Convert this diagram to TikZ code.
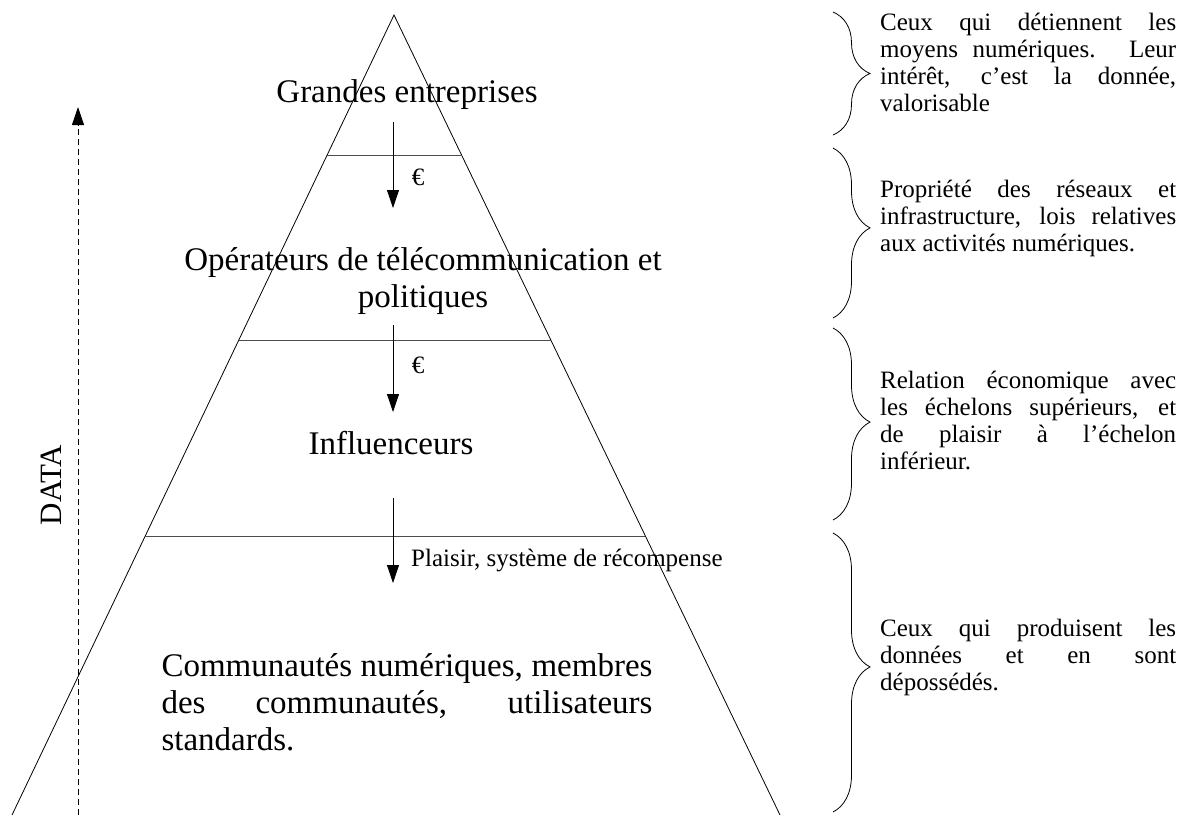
\documentclass[tikz,border=0pt]{standalone}
\usepackage{fontspec}
\setmainfont{Liberation Serif}
\usetikzlibrary{arrows.meta,calc,decorations.pathreplacing}

\begin{document}
\begin{tikzpicture}[x=1pt,y=-1pt,
  side/.style={line width=.8pt},
  level/.style={line width=1pt,black!70},
  flow/.style={line width=.8pt,-{Triangle[width=12pt,length=18pt]}},
  layer/.style={font=\fontsize{33}{37}\selectfont,align=center,inner sep=0pt},
  note/.style={font=\fontsize{25}{27}\selectfont,text width=296pt,align=justify,inner sep=0pt,anchor=west},
  small/.style={font=\fontsize{25}{27}\selectfont,inner sep=0pt},
  grp/.style={decorate,decoration={brace,amplitude=37pt,aspect=#1},line width=.8pt}]
\useasboundingbox (0,0) rectangle (1181,815);

% pyramid
\coordinate (apex) at (394,15);
\coordinate (bl) at (12,815);
\coordinate (br) at (780,815);
\draw[side] (bl) -- (apex) -- (br);
\foreach \y [count=\i] in {156,340,536}{
  \coordinate (l\i) at ($(apex)!{(\y-15)/800}!(bl)$);
  \coordinate (r\i) at ($(apex)!{(\y-15)/800}!(br)$);
  \draw[level] (l\i) -- (r\i);
}

\node[layer] (big) at (407,95) {Grandes entreprises};
\node[layer] (ops) at (423,281) {Opérateurs de télécommunication et\\politiques};
\node[layer] (infl) at (391,443) {Influenceurs};
\node[layer,text width=491pt,align=justify] (comm) at (407,702)
  {Communautés numériques, membres\linebreak des communautés, utilisateurs\linebreak standards.};

% flows down
\coordinate (f1a) at (393,122); \coordinate (f1b) at (393,208);
\coordinate (f2a) at (393,325); \coordinate (f2b) at (393,412);
\coordinate (f3a) at (393,498); \coordinate (f3b) at (393,583);
\draw[flow] (f1a) -- (f1b);
\draw[flow] (f2a) -- (f2b);
\draw[flow] (f3a) -- (f3b);
\node[small] (eur1) at (418,177) {€};
\node[small] (eur2) at (418,365) {€};
\node[small,anchor=west] (plaisir) at (411,560) {Plaisir, système de récompense};

% data
\coordinate (d0) at (78,815);
\coordinate (d1) at (78,107);
\draw[flow,dash pattern=on 6pt off 4pt] (d0) -- (d1);
\node[rotate=90,inner sep=0pt,font=\fontsize{31}{35}\selectfont] (data) at (51,485) {DATA};

% braces and notes
\foreach \t/\b/\a in {12/135/.5,148/318/.47,328/520/.49,533/812/.48}
  \draw[grp=\a] (833,\t) -- (833,\b);
\node[note] (n1) at (880,62) {Ceux qui détiennent les\linebreak moyens numériques. Leur\linebreak intérêt, c’est la donnée,\linebreak valorisable};
\node[note] (n2) at (880,218) {Propriété des réseaux et\linebreak infrastructure, lois relatives\linebreak aux activités numériques.};
\node[note] (n3) at (880,420) {Relation économique avec\linebreak les échelons supérieurs, et\linebreak de plaisir à l’échelon\linebreak inférieur.};
\node[note] (n4) at (880,657) {Ceux qui produisent les\linebreak données et en sont\linebreak dépossédés.};
\end{tikzpicture}
\end{document}
